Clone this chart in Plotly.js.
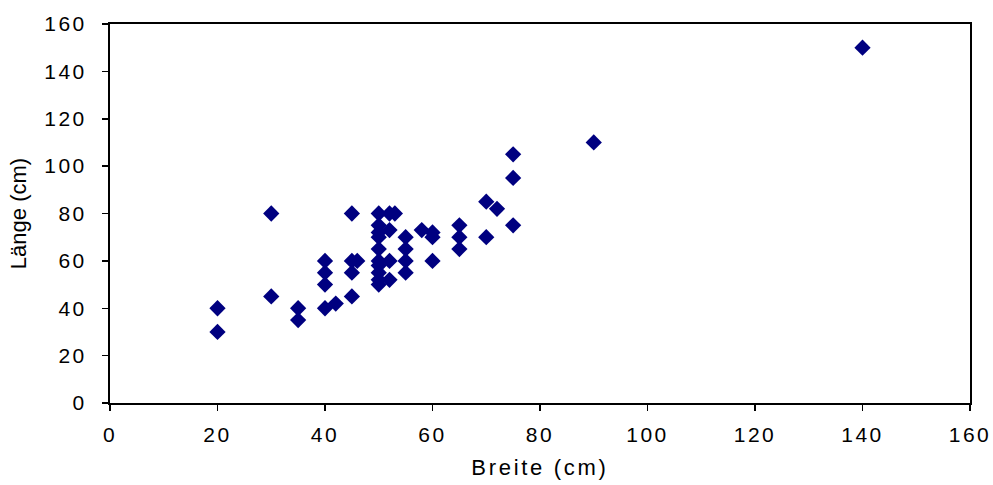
<!DOCTYPE html>
<html>
<head>
<meta charset="utf-8">
<script src="https://cdn.plot.ly/plotly-3.0.1.min.js"></script>
<style>
html,body{margin:0;padding:0;background:#fff;}
#chart{width:993px;height:485px;}
.xtick text,.ytick text{letter-spacing:2.5px;}
.g-xtitle text{letter-spacing:2.7px;}
</style>
</head>
<body>
<div id="chart"></div>
<script>
const breite = [20,20,30,30,35,35,40,40,40,40,42,45,45,45,45,46,
  50,50,50,50,50,50,50,50,50,50,52,53,52,52,52,
  55,55,55,55,58,60,60,60,65,65,65,70,72,70,75,75,75,90,140];
const laenge = [40,30,80,45,40,35,60,55,50,40,42,80,60,55,45,60,
  80,75,72,70,65,60,58,55,52,50,80,80,73,60,52,
  70,65,60,55,73,72,70,60,75,70,65,85,82,70,105,95,75,110,150];
const xTicks = [0,20,40,60,80,100,120,140,160];
const yTicks = [0,20,40,60,80,100,120,140,160];

const font = {family:'"Liberation Sans", Arial, sans-serif', color:'#000'};

Plotly.newPlot('chart', [{
  x: breite, y: laenge, type:'scatter', mode:'markers',
  marker:{symbol:'diamond', size:12.5, color:'#000080', line:{width:0}},
  hoverinfo:'x+y'
}], {
  width:993, height:485,
  margin:{l:110, r:23, t:24, b:82},
  paper_bgcolor:'#fff', plot_bgcolor:'#fff',
  showlegend:false,
  xaxis:{
    range:[0,160], tickvals:xTicks, ticktext:xTicks.map(String),
    showgrid:false, zeroline:false, showline:true, linecolor:'#000', linewidth:2, mirror:true,
    ticks:'outside', ticklen:6, tickwidth:1.5, tickcolor:'#000',
    tickfont:Object.assign({size:21}, font), ticklabelstandoff:6,
    title:{text:'Breite (cm)', font:Object.assign({size:22}, font), standoff:14}
  },
  yaxis:{
    range:[0,160], tickvals:yTicks, ticktext:yTicks.map(String),
    showgrid:false, zeroline:false, showline:true, linecolor:'#000', linewidth:2, mirror:true,
    ticks:'outside', ticklen:6, tickwidth:1.5, tickcolor:'#000',
    tickfont:Object.assign({size:21}, font), ticklabelstandoff:11,
    title:{text:'Länge (cm)', font:Object.assign({size:22}, font), standoff:12}
  }
}, {displayModeBar:false, staticPlot:true});
</script>
</body>
</html>
